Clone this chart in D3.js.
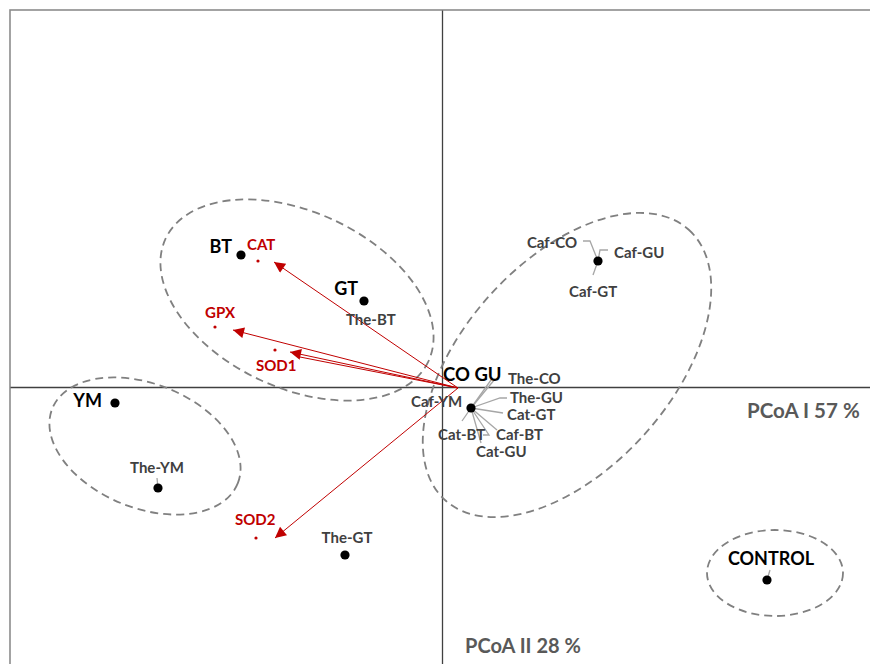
<!DOCTYPE html>
<html>
<head>
<meta charset="utf-8">
<script src="https://cdn.jsdelivr.net/npm/d3@7"></script>
<style>
  html, body { margin: 0; padding: 0; background: #fff; }
  svg { display: block; font-family: Lato, "Open Sans", sans-serif; }
</style>
</head>
<body>
<svg id="chart" width="870" height="664"></svg>
<script>
// PCoA ordination: sample scores, enzyme loading vectors and group ellipses

// Sample scores on PCoA I / PCoA II
const sampleNames = ["BT", "GT", "The-BT", "YM", "The-YM", "The-GT",
  "CO", "GU", "The-CO", "The-GU", "Cat-GT", "Caf-BT", "Cat-GU", "Cat-BT", "Caf-YM",
  "Caf-CO", "Caf-GU", "Caf-GT", "CONTROL"];
const sampleAxis1 = [-0.201, -0.078, -0.078, -0.327, -0.284, -0.097,
  0.029, 0.029, 0.029, 0.029, 0.029, 0.029, 0.029, 0.029, 0.029,
  0.156, 0.156, 0.156, 0.325];
const sampleAxis2 = [0.132, 0.086, 0.086, -0.016, -0.101, -0.168,
  -0.021, -0.021, -0.021, -0.021, -0.021, -0.021, -0.021, -0.021, -0.021,
  0.126, 0.126, 0.126, -0.193];

// Enzyme variables: projected positions and arrow tips
const enzymeNames = ["CAT", "GPX", "SOD1", "SOD2"];
const enzymeAxis1 = [-0.184, -0.227, -0.167, -0.186];
const enzymeAxis2 = [0.126, 0.060, 0.037, -0.151];
const arrowTip1 = [-0.168, -0.209, -0.152, -0.167];
const arrowTip2 = [0.125, 0.057, 0.035, -0.151];
const arrowOrigin = [0.016, -0.001];
// second trace running to the SOD1 arrowhead
const sod1Trace = [-0.142, 0.030];

// Group ellipses (centre, semi-axes in PCoA units, tilt in degrees)
const ellipseCx = [-0.145, -0.297, 0.125, 0.333];
const ellipseCy = [0.087, -0.059, 0.022, -0.186];
const ellipseRx = [0.145, 0.100, 0.182, 0.068];
const ellipseRy = [0.088, 0.062, 0.104, 0.043];
const ellipseTilt = [25, 22, -48, 0];

// Axis titles
const axisTitle1 = "PCoA I 57 %";
const axisTitle2 = "PCoA II 28 %";

const svg = d3.select("#chart");
const W = 870, H = 664;
const x = d3.scaleLinear().domain([-0.432, 0.428]).range([10, 870]);
const y = d3.scaleLinear().domain([0.377, -0.277]).range([10, 664]);
const unit = x(1) - x(0); // same pixels per unit on both axes

const samples = sampleNames.map((n, i) => ({ name: n, a1: sampleAxis1[i], a2: sampleAxis2[i] }));
const byName = Object.fromEntries(samples.map(s => [s.name, s]));

// outer frame
svg.append("rect")
  .attr("x", 10).attr("y", 10).attr("width", W).attr("height", H)
  .attr("fill", "none").attr("stroke", "#8c8c8c").attr("stroke-width", 1.6);

// zero axes drawn through d3 axes without ticks
const axX = svg.append("g").attr("transform", `translate(0,${y(0)})`)
  .call(d3.axisBottom(x).tickValues([]).tickSizeOuter(0));
const axY = svg.append("g").attr("transform", `translate(${x(0)},0)`)
  .call(d3.axisLeft(y).tickValues([]).tickSizeOuter(0));
[axX, axY].forEach(g => g.select(".domain").attr("stroke", "#404040").attr("stroke-width", 1.3));

// group ellipses
svg.append("g").selectAll("ellipse")
  .data(ellipseCx.map((c, i) => ({ cx: c, cy: ellipseCy[i], rx: ellipseRx[i], ry: ellipseRy[i], t: ellipseTilt[i] })))
  .join("ellipse")
  .attr("transform", d => `translate(${x(d.cx)},${y(d.cy)}) rotate(${d.t})`)
  .attr("rx", d => d.rx * unit).attr("ry", d => d.ry * unit)
  .attr("fill", "none").attr("stroke", "#808080")
  .attr("stroke-width", 1.8).attr("stroke-dasharray", "8,5");

// loading arrows
const red = "#c00000";
svg.append("defs").append("marker")
  .attr("id", "head").attr("viewBox", "0 0 10 10")
  .attr("refX", 10).attr("refY", 5)
  .attr("markerWidth", 15).attr("markerHeight", 11)
  .attr("markerUnits", "userSpaceOnUse").attr("orient", "auto")
  .append("path").attr("d", "M0,0 L10,5 L0,10 Z").attr("fill", red);

const arrows = svg.append("g");
arrows.append("line")
  .attr("x1", x(arrowOrigin[0])).attr("y1", y(arrowOrigin[1]))
  .attr("x2", x(sod1Trace[0])).attr("y2", y(sod1Trace[1]))
  .attr("stroke", red).attr("stroke-width", 1);
arrows.selectAll("line.load")
  .data(enzymeNames.map((n, i) => ({ n, tx: arrowTip1[i], ty: arrowTip2[i] })))
  .join("line").attr("class", "load")
  .attr("x1", x(arrowOrigin[0])).attr("y1", y(arrowOrigin[1]))
  .attr("x2", d => x(d.tx)).attr("y2", d => y(d.ty))
  .attr("stroke", red).attr("stroke-width", 1)
  .attr("marker-end", "url(#head)");

// enzyme points and labels
const enzymeLabelOffset = { CAT: [-11, -11], GPX: [-10, -9], SOD1: [-19, 21], SOD2: [-21, -13] };
const enz = svg.append("g").selectAll("g")
  .data(enzymeNames.map((n, i) => ({ n, a1: enzymeAxis1[i], a2: enzymeAxis2[i] })))
  .join("g").attr("transform", d => `translate(${x(d.a1)},${y(d.a2)})`);
enz.append("circle").attr("r", 1.6).attr("fill", red);
enz.append("text")
  .attr("x", d => enzymeLabelOffset[d.n][0]).attr("y", d => enzymeLabelOffset[d.n][1])
  .attr("fill", red).attr("font-weight", 700).attr("font-size", 15)
  .text(d => d.n);

// leader lines from clustered points to their labels (pixel offsets from the point)
const leaders = [
  ["The-CO", [[24, -29]]],
  ["CO", [[20, -28]]],
  ["The-GU", [[29, -10], [36, -10]]],
  ["Cat-GT", [[32, 5]]],
  ["Caf-BT", [[26, 22]]],
  ["Cat-GU", [[10, 35]]],
  ["Cat-BT", [[-9, 13]]],
  ["Cat-GU", [[18, 27], [12, 27]]],
  ["Caf-CO", [[-8, -20], [-15, -20]]],
  ["Caf-GU", [[2, -11], [10, -11]]],
  ["Caf-GT", [[-5, 14]]],
  ["The-YM", [[-1, -10]]],
  ["CONTROL", [[3, -10]]]
];
const line = d3.line();
svg.append("g").selectAll("path")
  .data(leaders)
  .join("path")
  .attr("d", d => {
    const s = byName[d[0]], px = x(s.a1), py = y(s.a2);
    return line([[px, py], ...d[1].map(o => [px + o[0], py + o[1]])]);
  })
  .attr("fill", "none").attr("stroke", "#a6a6a6").attr("stroke-width", 1.3);

// sample points (one dot per distinct position)
const uniq = Array.from(d3.group(samples, s => s.a1 + "," + s.a2).values(), g => g[0]);
svg.append("g").selectAll("circle")
  .data(uniq).join("circle")
  .attr("cx", d => x(d.a1)).attr("cy", d => y(d.a2))
  .attr("r", 4.6).attr("fill", "#000");

// sample labels: [sample, text, dx, dy, anchor, size, colour]
const big = "#000", grey = "#404040";
const sampleLabels = [
  ["BT", "BT", -9, -2, "end", 18, big],
  ["GT", "GT", -6, -6, "end", 18, big],
  ["YM", "YM", -13, 4, "end", 18, big],
  ["CO", "CO GU", -28, -27, "start", 18.5, big],
  ["CONTROL", "CONTROL", 4, -15, "middle", 18, big],
  ["The-BT", "The-BT", -18, 24, "start", 15, grey],
  ["The-YM", "The-YM", -1, -15, "middle", 15, grey],
  ["The-GT", "The-GT", 2, -12, "middle", 15, grey],
  ["Caf-CO", "Caf-CO", -21, -13, "end", 15, grey],
  ["Caf-GU", "Caf-GU", 16, -3, "start", 15, grey],
  ["Caf-GT", "Caf-GT", -29, 36, "start", 15, grey],
  ["The-CO", "The-CO", 37, -24, "start", 15, grey],
  ["The-GU", "The-GU", 39, -5, "start", 15, grey],
  ["Cat-GT", "Cat-GT", 36, 12, "start", 15, grey],
  ["Caf-BT", "Caf-BT", 25, 32, "start", 15, grey],
  ["Cat-BT", "Cat-BT", -33, 32, "start", 15, grey],
  ["Cat-GU", "Cat-GU", 5, 49, "start", 15, grey],
  ["Caf-YM", "Caf-YM", -60, -1, "start", 15, grey]
];
svg.append("g").selectAll("text")
  .data(sampleLabels).join("text")
  .attr("x", d => x(byName[d[0]].a1) + d[2])
  .attr("y", d => y(byName[d[0]].a2) + d[3])
  .attr("text-anchor", d => d[4])
  .attr("font-size", d => d[5]).attr("font-weight", 700)
  .attr("fill", d => d[6])
  .text(d => d[1]);

// axis titles
svg.append("text").attr("x", 747).attr("y", y(0) + 31)
  .attr("font-size", 20.5).attr("font-weight", 700).attr("fill", "#595959")
  .text(axisTitle1);
svg.append("text").attr("x", x(0) + 23).attr("y", 653)
  .attr("font-size", 20).attr("font-weight", 700).attr("fill", "#595959")
  .text(axisTitle2);
</script>
</body>
</html>
